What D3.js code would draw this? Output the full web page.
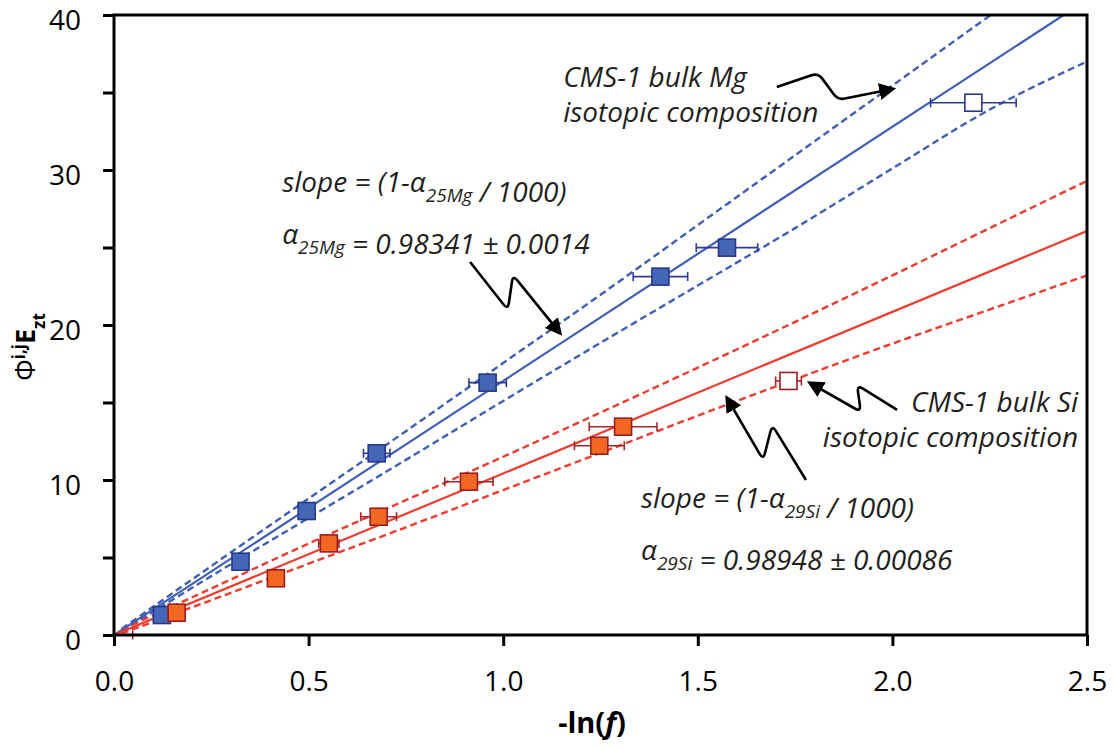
<!DOCTYPE html>
<html>
<head>
<meta charset="utf-8">
<script src="https://cdn.jsdelivr.net/npm/d3@7"></script>
<style>
  body { margin: 0; background: #fff; }
  svg { display: block; }
</style>
</head>
<body>
<svg id="chart" width="1113" height="747"></svg>
<script>
// ---- 25Mg: evaporation residues, -ln(f) vs Phi E (x error = +/- in -ln f)
const mgX   = [0.123, 0.325, 0.495, 0.675, 0.960, 1.404, 1.575];
const mgY   = [1.29, 4.73, 8.00, 11.72, 16.28, 23.12, 24.99];
const mgErr = [0.010, 0.010, 0.015, 0.034, 0.048, 0.070, 0.079];
// CMS-1 bulk Mg composition (x, y, x error)
const mgBulk = [2.208, 34.34, 0.110];

// ---- 29Si: evaporation residues
const siX   = [0.161, 0.416, 0.552, 0.680, 0.912, 1.247, 1.308];
const siY   = [1.44, 3.66, 5.91, 7.63, 9.89, 12.21, 13.44];
const siErr = [0.010, 0.010, 0.026, 0.046, 0.062, 0.064, 0.087];
// starting material next to the origin (only its error bar shows)
const siStart = [0.024, 0.0, 0.024];
// CMS-1 bulk Si composition
const siBulk = [1.733, 16.39, 0.033];

// ---- regression lines (end points)
const mgFitX = [0, 2.44];
const mgFitY = [0, 40];
const siFitX = [0, 2.5];
const siFitY = [0, 26.06];

// ---- confidence envelopes
const bandX     = [0.02, 0.25, 0.5, 0.75, 1.0, 1.25, 1.5, 1.75, 2.0, 2.25, 2.5];
const mgUpper   = [0.40, 4.45, 8.80, 13.15, 17.55, 21.95, 26.45, 30.95, 35.45, 39.95, 44.40];
const mgLower   = [0.25, 3.80, 7.55, 11.30, 15.10, 18.85, 22.55, 26.25, 30.10, 33.90, 37.00];
const siUpper   = [0.35, 3.00, 5.90, 8.70, 11.50, 14.35, 17.25, 20.20, 23.20, 26.25, 29.30];
const siLower   = [0.10, 2.25, 4.60, 6.95, 9.35, 11.75, 14.15, 16.50, 18.80, 21.00, 23.20];

// ---- axes
const xTicks = [0, 0.5, 1.0, 1.5, 2.0, 2.5];
const yTicks = [0, 5, 10, 15, 20, 25, 30, 35, 40];

// ---- colours
const C = {
  mgLine: "#3e5fb4", mgFill: "#4566b6", mgEdge: "#26378e", mgBar: "#2d3c96",
  siLine: "#ef3b2f", siFill: "#f26722", siEdge: "#9c1d1f", siBar: "#a3262b",
  ink: "#231f20"
};

const svg = d3.select("#chart");
const x = d3.scaleLinear().domain([0, 2.5]).range([114, 1087]);
const y = d3.scaleLinear().domain([0, 40]).range([635, 15]);

const defs = svg.append("defs");
defs.append("clipPath").attr("id", "plot")
  .append("rect")
  .attr("x", x(0)).attr("y", y(40))
  .attr("width", x(2.5) - x(0)).attr("height", y(0) - y(40));
defs.append("marker")
  .attr("id", "head")
  .attr("viewBox", "0 0 10 10")
  .attr("refX", 8).attr("refY", 5)
  .attr("markerWidth", 6.5).attr("markerHeight", 6.5)
  .attr("markerUnits", "strokeWidth")
  .attr("orient", "auto")
  .append("path").attr("d", "M0,0 L10,5 L0,10 Z").attr("fill", "#000");

// ---- lines
const plot = svg.append("g").attr("clip-path", "url(#plot)");
const straight = d3.line().x(d => x(d[0])).y(d => y(d[1]));
const smooth = d3.line().x(d => x(d[0])).y(d => y(d[1])).curve(d3.curveMonotoneX);

function band(values, color) {
  plot.append("path")
    .datum(bandX.map((v, i) => [v, values[i]]))
    .attr("d", smooth)
    .attr("fill", "none").attr("stroke", color)
    .attr("stroke-width", 2.4).attr("stroke-dasharray", "7,4");
}
band(mgUpper, C.mgLine);
band(mgLower, C.mgLine);
band(siUpper, C.siLine);
band(siLower, C.siLine);

plot.append("path").datum(mgFitX.map((v, i) => [v, mgFitY[i]]))
  .attr("d", straight).attr("fill", "none")
  .attr("stroke", C.mgLine).attr("stroke-width", 2.2);
plot.append("path").datum(siFitX.map((v, i) => [v, siFitY[i]]))
  .attr("d", straight).attr("fill", "none")
  .attr("stroke", C.siLine).attr("stroke-width", 2.2);

// ---- error bars and markers
function errorBar(g, px, py, err, color) {
  const yy = y(py), cap = 4.5;
  g.append("line").attr("x1", x(px - err)).attr("x2", x(px + err))
    .attr("y1", yy).attr("y2", yy).attr("stroke", color).attr("stroke-width", 1.6);
  [px - err, px + err].forEach(e => {
    g.append("line").attr("x1", x(e)).attr("x2", x(e))
      .attr("y1", yy - cap).attr("y2", yy + cap)
      .attr("stroke", color).attr("stroke-width", 1.6);
  });
}
function square(g, px, py, fill, edge) {
  const s = 17;
  g.append("rect").attr("x", x(px) - s / 2).attr("y", y(py) - s / 2)
    .attr("width", s).attr("height", s)
    .attr("fill", fill).attr("stroke", edge).attr("stroke-width", 1.6);
}

const pts = svg.append("g");
errorBar(pts, siStart[0], siStart[1], siStart[2], C.siBar);
siX.forEach((v, i) => errorBar(pts, v, siY[i], siErr[i], C.siBar));
mgX.forEach((v, i) => errorBar(pts, v, mgY[i], mgErr[i], C.mgBar));
errorBar(pts, mgBulk[0], mgBulk[1], mgBulk[2], C.mgBar);
errorBar(pts, siBulk[0], siBulk[1], siBulk[2], C.siBar);
mgX.forEach((v, i) => square(pts, v, mgY[i], C.mgFill, C.mgEdge));
siX.forEach((v, i) => square(pts, v, siY[i], C.siFill, C.siEdge));
square(pts, mgBulk[0], mgBulk[1], "#fff", C.mgEdge);
square(pts, siBulk[0], siBulk[1], "#fff", C.siEdge);

// ---- axes and frame
const font = "'Open Sans', 'DejaVu Sans', sans-serif";
const xAxis = svg.append("g").attr("transform", `translate(0,${y(0)})`)
  .call(d3.axisBottom(x).tickValues(xTicks).tickSize(11).tickPadding(25)
    .tickFormat(d3.format(".1f")));
const yAxis = svg.append("g").attr("transform", `translate(${x(0)},0)`)
  .call(d3.axisLeft(y).tickValues(yTicks).tickSize(11).tickPadding(22)
    .tickFormat(d => d % 10 === 0 ? d : ""));
[xAxis, yAxis].forEach(a => {
  a.select(".domain").remove();
  a.selectAll(".tick line").attr("stroke", "#000").attr("stroke-width", 3);
  a.selectAll(".tick text").attr("fill", "#000")
    .style("font-family", font).style("font-size", "28px");
});
yAxis.selectAll(".tick text").attr("dy", "0.5em");

svg.append("rect")
  .attr("x", x(0)).attr("y", y(40))
  .attr("width", x(2.5) - x(0)).attr("height", y(0) - y(40))
  .attr("fill", "none").attr("stroke", "#000").attr("stroke-width", 3);

// ---- axis titles
const xt = svg.append("text").attr("x", 592).attr("y", 733)
  .attr("text-anchor", "middle").attr("fill", "#000")
  .style("font-family", font).style("font-size", "29px").style("font-weight", "bold");
xt.append("tspan").text("-ln(");
xt.append("tspan").style("font-style", "italic").text("f");
xt.append("tspan").text(")");

const yt = svg.append("text")
  .attr("transform", "translate(35,347) rotate(-90)")
  .attr("text-anchor", "middle").attr("fill", "#000")
  .style("font-family", font).style("font-size", "27px");
yt.append("tspan").text("Φ");
yt.append("tspan").attr("dy", -10).style("font-size", "17px").style("font-weight", "bold").text("i,j");
yt.append("tspan").attr("dy", 10).style("font-weight", "bold").text("E");
yt.append("tspan").attr("dy", 10).style("font-size", "17px").style("font-weight", "bold").text("zt");

// ---- annotations (anchored in data space)
function note(px, py, parts, anchor) {
  const t = svg.append("text").attr("x", x(px)).attr("y", y(py))
    .attr("text-anchor", anchor || "start").attr("fill", C.ink)
    .style("font-family", font).style("font-style", "italic").style("font-size", "28px");
  parts.forEach(p => {
    if (p.sub) {
      t.append("tspan").attr("dy", 10).style("font-size", "19px").text(p.t);
      t.append("tspan").attr("dy", -10).text("");
    } else {
      t.append("tspan").text(p.t);
    }
  });
}
note(1.154, 35.35, [{ t: "CMS-1 bulk Mg" }]);
note(1.154, 33.10, [{ t: "isotopic composition" }]);
note(0.432, 28.58, [{ t: "slope = (1-α" }, { t: "25Mg", sub: true }, { t: " / 1000)" }]);
note(0.432, 25.23, [{ t: "α" }, { t: "25Mg", sub: true }, { t: " = 0.98341 ± 0.0014" }]);
note(2.477, 14.39, [{ t: "CMS-1 bulk Si" }], "end");
note(2.477, 12.13, [{ t: "isotopic composition" }], "end");
note(1.354, 8.19, [{ t: "slope = (1-α" }, { t: "29Si", sub: true }, { t: " / 1000)" }]);
note(1.354, 4.84, [{ t: "α" }, { t: "29Si", sub: true }, { t: " = 0.98948 ± 0.00086" }]);

// squiggle arrows: start, kink, kink, tip (data units), corners rounded
function squiggle(points) {
  const p = points.map(d => [x(d[0]), y(d[1])]);
  const r = 7;
  let d = `M${p[0][0]},${p[0][1]}`;
  for (let i = 1; i < p.length - 1; i++) {
    const a = p[i - 1], b = p[i], c = p[i + 1];
    const l1 = Math.hypot(b[0] - a[0], b[1] - a[1]);
    const l2 = Math.hypot(c[0] - b[0], c[1] - b[1]);
    const k1 = Math.min(r, l1 / 2) / l1, k2 = Math.min(r, l2 / 2) / l2;
    d += `L${b[0] - (b[0] - a[0]) * k1},${b[1] - (b[1] - a[1]) * k1}`;
    d += `Q${b[0]},${b[1]} ${b[0] + (c[0] - b[0]) * k2},${b[1] + (c[1] - b[1]) * k2}`;
  }
  const e = p[p.length - 1];
  d += `L${e[0]},${e[1]}`;
  svg.append("path").attr("d", d).attr("fill", "none")
    .attr("stroke", "#000").attr("stroke-width", 2.6)
    .attr("stroke-linejoin", "round").attr("marker-end", "url(#head)");
}
squiggle([[1.703, 35.35], [1.809, 36.26], [1.860, 34.52], [2.001, 35.23]]);
squiggle([[0.915, 24.06], [1.012, 20.97], [1.025, 23.23], [1.146, 19.48]]);
squiggle([[2.012, 14.52], [1.909, 16.13], [1.919, 14.39], [1.788, 16.26]]);
squiggle([[1.778, 10.00], [1.691, 13.55], [1.668, 11.29], [1.575, 15.29]]);
</script>
</body>
</html>
